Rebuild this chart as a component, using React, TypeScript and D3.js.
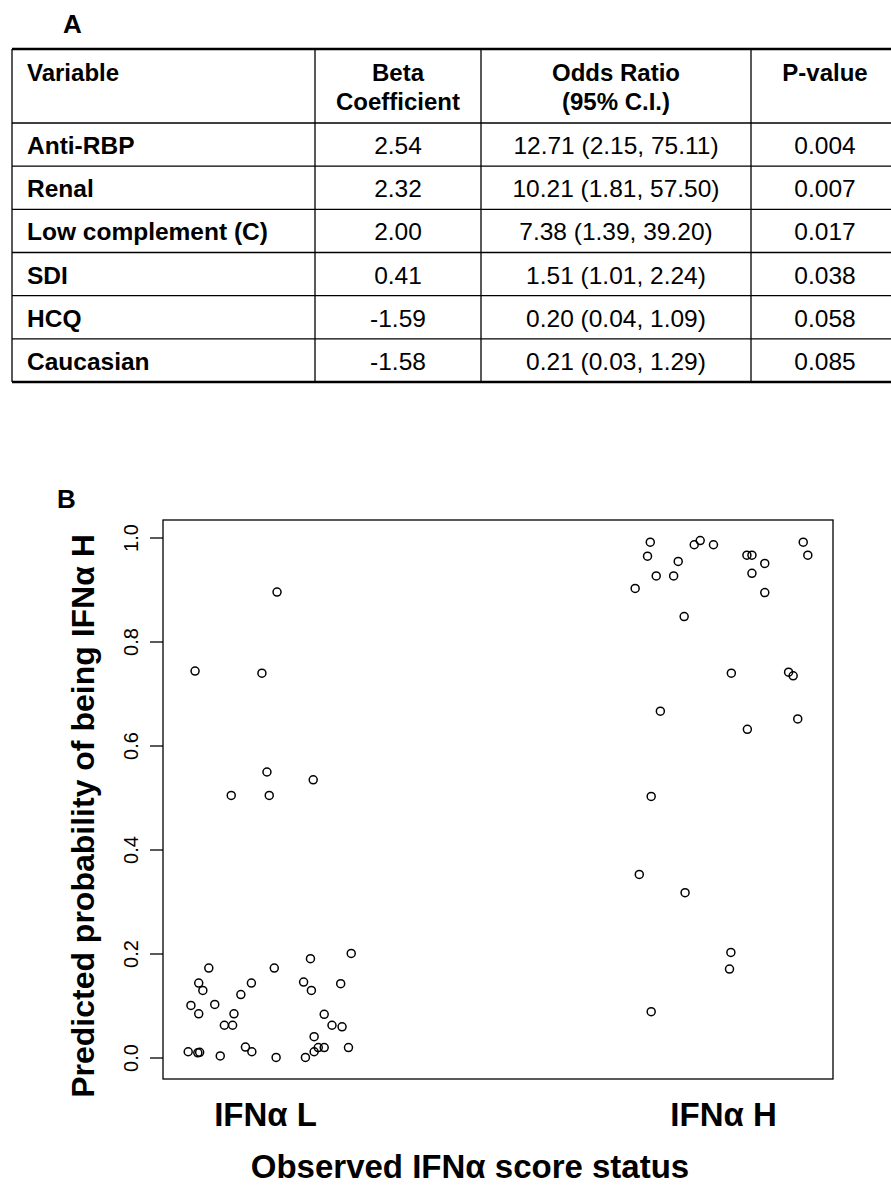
import React from 'react';
import * as d3 from 'd3';

// ---- table (panel A) ----
const headerLines = [
  ['Variable', ''],
  ['Beta', 'Coefficient'],
  ['Odds Ratio', '(95% C.I.)'],
  ['P-value', ''],
];
const variables = ['Anti-RBP', 'Renal', 'Low complement (C)', 'SDI', 'HCQ', 'Caucasian'];
const betas = ['2.54', '2.32', '2.00', '0.41', '-1.59', '-1.58'];
const oddsRatios = [
  '12.71 (2.15, 75.11)',
  '10.21 (1.81, 57.50)',
  '7.38 (1.39, 39.20)',
  '1.51 (1.01, 2.24)',
  '0.20 (0.04, 1.09)',
  '0.21 (0.03, 1.29)',
];
const pValues = ['0.004', '0.007', '0.017', '0.038', '0.058', '0.085'];

// ---- scatter (panel B) ----
const categories = ['IFNα L', 'IFNα H'];
const yTicks = [0, 0.2, 0.4, 0.6, 0.8, 1.0];

// jittered x (1 = L, 2 = H) and predicted probability
const lowX = [0.846, 1.025, 0.992, 1.003, 1.104, 0.925, 1.008, 1.187, 1.098, 0.876, 1.019, 0.854, 0.969, 1.083, 1.164,
  0.863, 1.100, 0.946, 0.837, 0.889, 0.854, 0.931, 1.128, 0.910, 0.928, 1.145, 1.167, 1.106, 0.956, 1.115, 1.128,
  1.181, 0.831, 0.852, 0.856, 0.970, 0.901, 1.023, 1.087, 1.106];
const lowY = [0.744, 0.896, 0.740, 0.550, 0.535, 0.505, 0.505, 0.201, 0.191, 0.173, 0.173, 0.144, 0.144, 0.146, 0.143,
  0.130, 0.130, 0.122, 0.101, 0.103, 0.085, 0.085, 0.084, 0.063, 0.063, 0.063, 0.060, 0.041, 0.021, 0.020, 0.020,
  0.020, 0.012, 0.010, 0.011, 0.012, 0.004, 0.001, 0.001, 0.012];
const highX = [1.840, 1.834, 1.901, 1.853, 1.891, 1.807, 1.936, 1.949, 1.978, 1.914, 2.051, 2.062, 2.090, 2.062, 2.090,
  2.174, 2.184, 2.017, 2.142, 2.152, 1.862, 2.162, 2.052, 1.842, 1.816, 1.916, 2.016, 2.013, 1.842];
const highY = [0.992, 0.965, 0.955, 0.927, 0.927, 0.903, 0.987, 0.995, 0.987, 0.849, 0.967, 0.967, 0.951, 0.932, 0.895,
  0.992, 0.967, 0.740, 0.742, 0.735, 0.667, 0.652, 0.632, 0.503, 0.353, 0.318, 0.203, 0.171, 0.089];

const font = '"Liberation Sans", Arial, Helvetica, sans-serif';

function TablePanel() {
  const colEdges = [12, 315, 481, 751, 899];
  const rowY = d3.scaleLinear().domain([0, variables.length]).range([123, 382]);
  const rows = variables.map((v, i) => [v, betas[i], oddsRatios[i], pValues[i]]);
  const cx = (c: number) => (colEdges[c] + colEdges[c + 1]) / 2;
  return (
    <g fontFamily={font} fill="#000">
      <text x={63} y={33} fontSize={26} fontWeight="bold">A</text>
      {/* horizontal rules */}
      <line x1={12} x2={899} y1={49} y2={49} stroke="#000" strokeWidth={2.5} />
      {d3.range(0, variables.length).map(i => (
        <line key={i} x1={12} x2={899} y1={rowY(i)} y2={rowY(i)} stroke="#000" strokeWidth={1.3} />
      ))}
      <line x1={12} x2={899} y1={382} y2={382} stroke="#000" strokeWidth={2.5} />
      {colEdges.map((x, i) => (
        <line key={i} x1={x} x2={x} y1={49} y2={382} stroke="#000" strokeWidth={1.3} />
      ))}
      {headerLines.map((h, c) => (
        <g key={c} fontSize={24} fontWeight="bold" textAnchor={c === 0 ? 'start' : 'middle'}>
          <text x={c === 0 ? 27 : cx(c)} y={81}>{h[0]}</text>
          {h[1] && <text x={cx(c)} y={110}>{h[1]}</text>}
        </g>
      ))}
      {rows.map((r, i) => (
        <g key={i} fontSize={24.5}>
          {r.map((t, c) => (
            <text key={c} x={c === 0 ? 27 : cx(c)} y={rowY(i) + 31}
              textAnchor={c === 0 ? 'start' : 'middle'} fontWeight={c === 0 ? 'bold' : 'normal'}>{t}</text>
          ))}
        </g>
      ))}
    </g>
  );
}

function ScatterPanel() {
  const left = 163, right = 833, top = 520, bottom = 1079;
  const x = d3.scaleLinear().domain([0.776, 2.239]).range([left, right]);
  const y = d3.scaleLinear().domain([0, 1]).range([1058, 538]);
  const pts = [
    ...lowX.map((v, i) => [v, lowY[i]]),
    ...highX.map((v, i) => [v, highY[i]]),
  ];
  return (
    <g fontFamily={font} fill="#000">
      <text x={57} y={508} fontSize={26} fontWeight="bold">B</text>
      <rect x={left} y={top} width={right - left} height={bottom - top} fill="none" stroke="#000" strokeWidth={1.3} />
      {yTicks.map(t => (
        <g key={t}>
          <line x1={left - 13} x2={left} y1={y(t)} y2={y(t)} stroke="#000" strokeWidth={1.3} />
          <text transform={`translate(138,${y(t)}) rotate(-90)`} textAnchor="middle" fontSize={20}>
            {d3.format('.1f')(t)}
          </text>
        </g>
      ))}
      <text transform={`translate(94,${816}) rotate(-90)`} textAnchor="middle" fontSize={32} fontWeight="bold">
        Predicted probability of being IFNα H
      </text>
      {categories.map((c, i) => (
        <text key={c} x={x(i + 1)} y={1126} textAnchor="middle" fontSize={33} fontWeight="bold">{c}</text>
      ))}
      <text x={470} y={1178} textAnchor="middle" fontSize={33} fontWeight="bold">Observed IFNα score status</text>
      {pts.map((p, i) => (
        <circle key={i} cx={x(p[0])} cy={y(p[1])} r={4} fill="none" stroke="#000" strokeWidth={1.5} />
      ))}
    </g>
  );
}

export default function App() {
  return (
    <svg width={891} height={1186} style={{ position: 'absolute', left: 0, top: 0, background: '#fff' }}>
      <rect width={891} height={1186} fill="#fff" />
      <TablePanel />
      <ScatterPanel />
    </svg>
  );
}
